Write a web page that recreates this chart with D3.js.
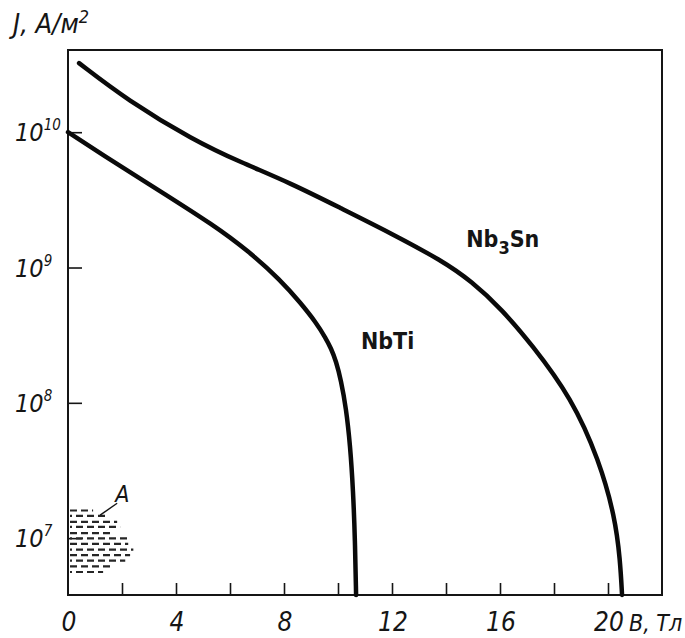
<!DOCTYPE html>
<html>
<head>
<meta charset="utf-8">
<script src="https://cdn.jsdelivr.net/npm/d3@7"></script>
<style>
  html, body { margin: 0; padding: 0; background: #fff; }
  svg { display: block; }
</style>
</head>
<body>
<div id="chartContainer"></div>
<script>
// B, Тл  -> J, А/м²
const nb3snB = [0.41, 2.19, 4.65, 6.39, 8.25, 10.11, 11.97, 13.83, 14.94, 16.06, 17.17, 18.66, 19.67, 20.26, 20.45, 20.52];
const nb3snJ = [3.24e10, 1.73e10, 8.73e9, 6.0e9, 4.2e9, 2.74e9, 1.79e9, 1.13e9, 7.93e8, 4.92e8, 2.71e8, 1.08e8, 3.77e7, 1.43e7, 6.87e6, 3.8e6];

const nbtiB = [0, 1.19, 3.42, 5.39, 6.65, 7.88, 8.62, 9.18, 9.55, 9.74, 9.93, 10.11, 10.30, 10.45, 10.56, 10.63, 10.67];
const nbtiJ = [1.0e10, 7.0e9, 3.66e9, 2.06e9, 1.34e9, 8.05e8, 5.45e8, 3.94e8, 3.0e8, 2.53e8, 2.03e8, 1.47e8, 9.12e7, 4.86e7, 2.26e7, 9.66e6, 3.8e6];

// hatched region A: one dashed row per J value, running from B = 0 to rowBmax
const regionAJ = [1.60e7, 1.46e7, 1.32e7, 1.21e7, 1.09e7, 9.95e6, 9.06e6, 8.22e6, 7.48e6, 6.81e6, 6.18e6, 5.62e6];
const regionABmax = [0.93, 1.45, 1.82, 1.93, 1.67, 2.19, 2.23, 2.42, 2.30, 2.12, 1.67, 1.30];

const xTickMarks = [2, 4, 6, 8, 10, 12, 14, 16, 18, 20];
const xTickLabels = [0, 4, 8, 12, 16, 20];
const yTickValues = [1e7, 1e8, 1e9, 1e10];
const yTickExponents = ['7', '8', '9', '10'];

function makeChart() {
    const width = 685;
    const height = 638;
    const margin = { top: 50, right: 23, bottom: 43, left: 68 };

    const ink = '#151515';
    const labelFont = '"DejaVu Sans Condensed", "DejaVu Sans", sans-serif';

    const svg = d3.select('#chartContainer')
        .append('svg')
        .attr('width', width)
        .attr('height', height);

    const scX = d3.scaleLinear()
        .domain([0, 22])
        .range([margin.left, width - margin.right]);

    const scY = d3.scaleLog()
        .domain([3.8e6, 4.05e10])
        .range([height - margin.bottom, margin.top]);

    // frame
    svg.append('rect')
        .attr('x', scX(0))
        .attr('y', margin.top)
        .attr('width', scX(22) - scX(0))
        .attr('height', height - margin.bottom - margin.top)
        .attr('fill', 'none')
        .attr('stroke', ink)
        .attr('stroke-width', 2);

    // x ticks (inside, no labels)
    const xTicks = d3.axisBottom(scX)
        .tickValues(xTickMarks)
        .tickSize(-12)
        .tickFormat('');
    svg.append('g')
        .attr('transform', `translate(0, ${height - margin.bottom})`)
        .call(xTicks)
        .call(g => g.select('.domain').remove())
        .selectAll('line')
        .attr('stroke', ink)
        .attr('stroke-width', 1.6);

    // x labels
    svg.append('g')
        .selectAll('text')
        .data(xTickLabels)
        .join('text')
        .attr('x', d => scX(d) + 1)
        .attr('y', 631)
        .attr('text-anchor', 'middle')
        .attr('fill', ink)
        .attr('font-family', labelFont)
        .attr('font-style', 'italic')
        .attr('font-size', 26)
        .text(d => d);

    svg.append('text')
        .attr('x', 629)
        .attr('y', 631)
        .attr('fill', ink)
        .attr('font-family', labelFont)
        .attr('font-style', 'italic')
        .attr('font-size', 23)
        .text('B, Тл');

    // y ticks (inside)
    const yTicks = d3.axisRight(scY)
        .tickValues(yTickValues)
        .tickSize(14)
        .tickFormat('');
    svg.append('g')
        .attr('transform', `translate(${margin.left}, 0)`)
        .call(yTicks)
        .call(g => g.select('.domain').remove())
        .selectAll('line')
        .attr('stroke', ink)
        .attr('stroke-width', 1.6);

    // y labels 10^n
    const yLab = svg.append('g')
        .selectAll('text')
        .data(yTickValues)
        .join('text')
        .attr('x', 15)
        .attr('y', d => scY(d) + 9)
        .attr('fill', ink)
        .attr('font-family', labelFont)
        .attr('font-style', 'italic')
        .attr('font-size', 25);
    yLab.append('tspan').text('10');
    yLab.append('tspan')
        .attr('dy', -11)
        .attr('font-size', 15)
        .text((d, i) => yTickExponents[i]);

    // y title
    const yTitle = svg.append('text')
        .attr('x', 13)
        .attr('y', 33)
        .attr('fill', ink)
        .attr('font-family', labelFont)
        .attr('font-style', 'italic')
        .attr('font-size', 27);
    yTitle.append('tspan').text('J, А/м');
    yTitle.append('tspan').attr('dy', -10).attr('font-size', 18).text('2');

    // region A
    const regionA = svg.append('g').attr('id', 'regionA');
    regionAJ.forEach((j, i) => {
        regionA.append('line')
            .attr('x1', scX(0) + 2)
            .attr('x2', scX(regionABmax[i]))
            .attr('y1', scY(j))
            .attr('y2', scY(j))
            .attr('stroke', '#262626')
            .attr('stroke-width', 2.2)
            .attr('stroke-dasharray', '7,4')
            .attr('stroke-dashoffset', i % 2 ? 5 : 0);
    });
    regionA.append('line')
        .attr('x1', scX(1.82)).attr('y1', scY(1.81e7))
        .attr('x2', scX(1.19)).attr('y2', scY(1.48e7))
        .attr('stroke', ink)
        .attr('stroke-width', 1.4);
    regionA.append('text')
        .attr('x', scX(1.75))
        .attr('y', scY(1.84e7))
        .attr('fill', ink)
        .attr('font-family', labelFont)
        .attr('font-style', 'italic')
        .attr('font-size', 23)
        .text('A');

    // curves (basis spline smooths out reading noise)
    const lineMaker = d3.line()
        .x(d => scX(d[0]))
        .y(d => scY(d[1]))
        .curve(d3.curveBasis);

    const curves = [
        { name: 'Nb3Sn', pts: d3.zip(nb3snB, nb3snJ) },
        { name: 'NbTi', pts: d3.zip(nbtiB, nbtiJ) }
    ];

    svg.append('g')
        .attr('id', 'curves')
        .selectAll('path')
        .data(curves)
        .join('path')
        .attr('fill', 'none')
        .attr('stroke', '#0a0a0a')
        .attr('stroke-width', 4.5)
        .attr('stroke-linecap', 'round')
        .attr('d', d => lineMaker(d.pts));

    // curve labels
    const curveFont = '"DejaVu Sans Condensed", "DejaVu Sans", sans-serif';
    const nbSn = svg.append('text')
        .attr('x', scX(14.75))
        .attr('y', scY(1.41e9))
        .attr('fill', ink)
        .attr('font-family', curveFont)
        .attr('font-weight', 'bold')
        .attr('font-size', 23);
    nbSn.append('tspan').text('Nb');
    nbSn.append('tspan').attr('dy', 7).attr('font-size', 18).text('3');
    nbSn.append('tspan').attr('dy', -7).text('Sn');

    svg.append('text')
        .attr('x', scX(10.85))
        .attr('y', scY(2.49e8))
        .attr('fill', ink)
        .attr('font-family', curveFont)
        .attr('font-weight', 'bold')
        .attr('font-size', 23)
        .text('NbTi');
}

makeChart();
</script>
</body>
</html>
